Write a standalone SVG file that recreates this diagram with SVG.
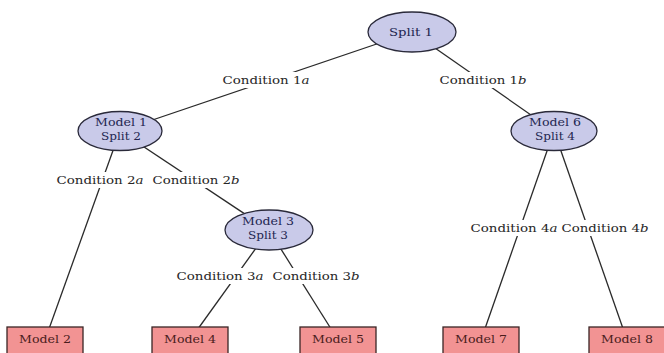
<svg xmlns="http://www.w3.org/2000/svg" width="664" height="353" viewBox="0 0 664 353">
<style>
.bg{fill:#ffffff}
.edge{stroke:#2a2a2a;stroke-width:1.3;fill:none}
.split{fill:#c9cae9;stroke:#2a2a3a;stroke-width:1.3}
.leaf{fill:#f29393;stroke:#3a2525;stroke-width:1.3}
.lab{fill:#ffffff}
text{font-family:"DejaVu Serif","Liberation Serif",serif;font-size:11px;text-anchor:middle}
.st{fill:#232650}
.lt{fill:#4a1c1c}
.ct{fill:#262626}
.m{font-style:italic}
</style>
<rect class="bg" x="0" y="0" width="664" height="353"/>
<g id="connectors">
  <line class="edge" x1="412" y1="32" x2="120" y2="131"/>
  <line class="edge" x1="412" y1="32" x2="554" y2="131"/>
  <line class="edge" x1="120" y1="131" x2="45" y2="340"/>
  <line class="edge" x1="120" y1="131" x2="269" y2="230"/>
  <line class="edge" x1="269" y1="230" x2="190" y2="340"/>
  <line class="edge" x1="269" y1="230" x2="338" y2="340"/>
  <line class="edge" x1="554" y1="131" x2="481" y2="340"/>
  <line class="edge" x1="554" y1="131" x2="627" y2="340"/>
  <g id="labels">
    <rect class="lab" x="221" y="72" width="91" height="16"/>
    <text class="ct" x="266" y="84" textLength="87" lengthAdjust="spacingAndGlyphs">Condition 1<tspan class="m">a</tspan></text>
    <rect class="lab" x="438" y="72" width="91" height="16"/>
    <text class="ct" x="483" y="84" textLength="87" lengthAdjust="spacingAndGlyphs">Condition 1<tspan class="m">b</tspan></text>
    <rect class="lab" x="55" y="172" width="91" height="16"/>
    <text class="ct" x="100" y="184" textLength="87" lengthAdjust="spacingAndGlyphs">Condition 2<tspan class="m">a</tspan></text>
    <rect class="lab" x="151" y="172" width="91" height="16"/>
    <text class="ct" x="196" y="184" textLength="87" lengthAdjust="spacingAndGlyphs">Condition 2<tspan class="m">b</tspan></text>
    <rect class="lab" x="175" y="268" width="91" height="16"/>
    <text class="ct" x="220" y="280" textLength="87" lengthAdjust="spacingAndGlyphs">Condition 3<tspan class="m">a</tspan></text>
    <rect class="lab" x="271" y="268" width="91" height="16"/>
    <text class="ct" x="316" y="280" textLength="87" lengthAdjust="spacingAndGlyphs">Condition 3<tspan class="m">b</tspan></text>
    <rect class="lab" x="469" y="220" width="91" height="16"/>
    <text class="ct" x="514" y="232" textLength="87" lengthAdjust="spacingAndGlyphs">Condition 4<tspan class="m">a</tspan></text>
    <rect class="lab" x="560" y="220" width="91" height="16"/>
    <text class="ct" x="605" y="232" textLength="87" lengthAdjust="spacingAndGlyphs">Condition 4<tspan class="m">b</tspan></text>
  </g>
</g>
<g id="split1">
  <ellipse class="split" cx="412" cy="32" rx="44" ry="20"/>
  <text class="st" x="411" y="36" textLength="44" lengthAdjust="spacingAndGlyphs">Split 1</text>
</g>
<g id="model1">
  <ellipse class="split" cx="120" cy="131" rx="42" ry="19.5"/>
  <text class="st" x="121" y="126" textLength="52" lengthAdjust="spacingAndGlyphs">Model 1</text>
  <text class="st" x="121" y="140" textLength="40" lengthAdjust="spacingAndGlyphs">Split 2</text>
</g>
<g id="model3">
  <ellipse class="split" cx="269" cy="230" rx="44" ry="20"/>
  <text class="st" x="268" y="225" textLength="52" lengthAdjust="spacingAndGlyphs">Model 3</text>
  <text class="st" x="268" y="239" textLength="40" lengthAdjust="spacingAndGlyphs">Split 3</text>
</g>
<g id="model6">
  <ellipse class="split" cx="554" cy="131" rx="43" ry="19.5"/>
  <text class="st" x="555" y="126" textLength="52" lengthAdjust="spacingAndGlyphs">Model 6</text>
  <text class="st" x="555" y="140" textLength="40" lengthAdjust="spacingAndGlyphs">Split 4</text>
</g>
<g id="model2">
  <rect class="leaf" x="7" y="327" width="76" height="32"/>
  <text class="lt" x="45" y="343" textLength="52" lengthAdjust="spacingAndGlyphs">Model 2</text>
</g>
<g id="model4">
  <rect class="leaf" x="152" y="327" width="76" height="32"/>
  <text class="lt" x="190" y="343" textLength="52" lengthAdjust="spacingAndGlyphs">Model 4</text>
</g>
<g id="model5">
  <rect class="leaf" x="300" y="327" width="76" height="32"/>
  <text class="lt" x="338" y="343" textLength="52" lengthAdjust="spacingAndGlyphs">Model 5</text>
</g>
<g id="model7">
  <rect class="leaf" x="443" y="327" width="76" height="32"/>
  <text class="lt" x="481" y="343" textLength="52" lengthAdjust="spacingAndGlyphs">Model 7</text>
</g>
<g id="model8">
  <rect class="leaf" x="589" y="327" width="76" height="32"/>
  <text class="lt" x="627" y="343" textLength="52" lengthAdjust="spacingAndGlyphs">Model 8</text>
</g>
</svg>
